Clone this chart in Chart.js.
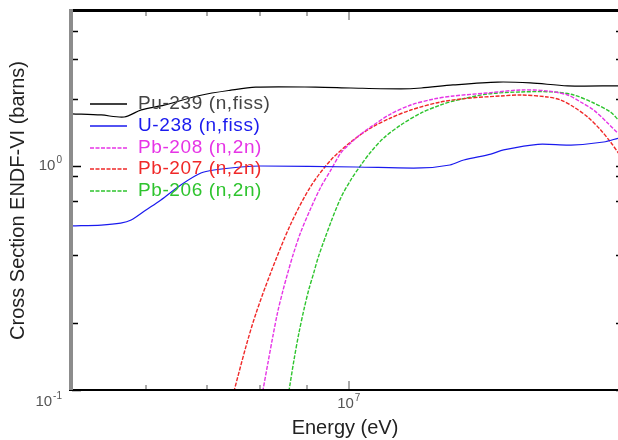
<!DOCTYPE html>
<html>
<head>
<meta charset="utf-8">
<script src="https://cdn.jsdelivr.net/npm/chart.js@4"></script>
<style>
html, body { margin: 0; padding: 0; background: #fff; }
canvas { display: block; }
</style>
</head>
<body>
<canvas id="xsChart" width="618" height="440"></canvas>
<script>
// series names, in legend order
const seriesNames = ['Pu-239 (n,fiss)', 'U-238 (n,fiss)', 'Pb-208 (n,2n)', 'Pb-207 (n,2n)', 'Pb-206 (n,2n)'];
const seriesColors = ['#000000', '#1a1aee', '#e634e6', '#f02828', '#2ec42e'];

// energies in eV, cross sections in barns
const pu239E = [4.98e6, 5.36e6, 5.68e6, 5.93e6, 6.28e6, 6.89e6, 7.43e6, 7.91e6, 9.2e6, 1.005e7, 1.14e7, 1.2e7, 1.3e7, 1.455e7, 1.58e7, 1.735e7, 1.97e7];
const pu239Xs = [1.71, 1.69, 1.655, 1.78, 1.87, 2.07, 2.18, 2.25, 2.25, 2.23, 2.21, 2.23, 2.30, 2.37, 2.35, 2.28, 2.28];

const u238E = [4.98e6, 5.36e6, 5.63e6, 5.78e6, 6.0e6, 6.23e6, 6.55e6, 6.89e6, 7.12e6, 7.62e6, 8.01e6, 1.018e7, 1.2e7, 1.29e7, 1.336e7, 1.43e7, 1.477e7, 1.61e7, 1.75e7, 1.9e7, 1.97e7];
const u238Xs = [0.54, 0.545, 0.556, 0.574, 0.636, 0.705, 0.823, 0.93, 0.96, 0.99, 1.0, 0.99, 0.98, 1.01, 1.064, 1.13, 1.18, 1.25, 1.24, 1.28, 1.33];

const pb208E = [8.03e6, 8.16e6, 8.26e6, 8.36e6, 8.47e6, 8.58e6, 8.69e6, 8.86e6, 9.09e6, 9.32e6, 9.56e6, 9.8e6, 1.005e7, 1.031e7, 1.057e7, 1.111e7, 1.169e7, 1.239e7, 1.302e7, 1.419e7, 1.542e7, 1.649e7, 1.735e7, 1.793e7, 1.853e7, 1.919e7, 1.968e7];
const pb208Xs = [0.093, 0.133, 0.174, 0.223, 0.277, 0.336, 0.401, 0.507, 0.649, 0.806, 0.96, 1.143, 1.267, 1.389, 1.494, 1.706, 1.872, 1.991, 2.054, 2.119, 2.185, 2.163, 2.075, 1.931, 1.778, 1.556, 1.404];

const pb207E = [7.46e6, 7.72e6, 7.91e6, 8.22e6, 8.64e6, 9.09e6, 9.56e6, 1.005e7, 1.057e7, 1.111e7, 1.169e7, 1.26e7, 1.359e7, 1.466e7, 1.542e7, 1.649e7, 1.705e7, 1.762e7, 1.825e7, 1.886e7, 1.933e7, 1.972e7];
const pb207Xs = [0.093, 0.157, 0.218, 0.336, 0.551, 0.814, 1.064, 1.28, 1.478, 1.638, 1.778, 1.931, 2.012, 2.054, 2.075, 2.033, 1.971, 1.834, 1.655, 1.448, 1.28, 1.143];

const pb206E = [8.58e6, 8.71e6, 8.82e6, 8.93e6, 9.04e6, 9.16e6, 9.27e6, 9.56e6, 9.8e6, 1.005e7, 1.031e7, 1.057e7, 1.092e7, 1.14e7, 1.199e7, 1.26e7, 1.302e7, 1.419e7, 1.542e7, 1.675e7, 1.762e7, 1.853e7, 1.933e7, 1.972e7];
const pb206Xs = [0.093, 0.136, 0.18, 0.228, 0.28, 0.336, 0.397, 0.562, 0.72, 0.866, 1.01, 1.155, 1.334, 1.524, 1.723, 1.872, 1.951, 2.097, 2.141, 2.141, 2.075, 1.911, 1.741, 1.605];

const allE = [pu239E, u238E, pb208E, pb207E, pb206E];
const allXs = [pu239Xs, u238Xs, pb208Xs, pb207Xs, pb206Xs];

// tick positions and the decade labels (base, exponent)
const xTickValues = [6e6, 7e6, 8e6, 9e6, 1e7];
const yTickValues = [0.1, 0.2, 0.4, 0.7, 0.9, 1, 2, 3, 4];
const xTickLabels = [{ value: 1e7, base: '10', exp: '7' }];
const yTickLabels = [{ value: 1, base: '10', exp: '0' }, { value: 0.1, base: '10', exp: '-1' }];

const fontFam = '"Liberation Sans", Arial, sans-serif';

const datasets = seriesNames.map((name, i) => ({
    label: name,
    data: allE[i].map((e, j) => ({ x: e, y: allXs[i][j] })),
    borderColor: seriesColors[i],
    borderWidth: i < 2 ? 1.2 : 1.4,
    borderDash: i < 2 ? [] : [4, 1.5],
    pointRadius: 0,
    tension: 0.3,
    fill: false
}));

function drawPowerLabel(ctx, base, exp, x, y, align) {
    ctx.font = '15px ' + fontFam;
    const bw = ctx.measureText(base).width;
    ctx.font = '10px ' + fontFam;
    const ew = ctx.measureText(exp).width;
    let x0 = x;
    if (align === 'right') x0 = x - bw - ew - 1;
    if (align === 'center') x0 = x - (bw + ew + 1) / 2;
    ctx.textAlign = 'left';
    ctx.textBaseline = 'middle';
    ctx.font = '15px ' + fontFam;
    ctx.fillText(base, x0, y);
    ctx.font = '10px ' + fontFam;
    ctx.fillText(exp, x0 + bw + 1, y - 6);
}

// frame, inward tick marks, tick labels and the legend inside the plot
const framePlugin = {
    id: 'frame',
    afterDraw(chart) {
        const ctx = chart.ctx;
        const a = chart.chartArea;
        const xs = chart.scales.x;
        const ys = chart.scales.y;
        ctx.save();

        // tick marks
        ctx.strokeStyle = '#aaaaaa';
        ctx.lineWidth = 2;
        xTickValues.forEach(v => {
            const px = Math.round(xs.getPixelForValue(v));
            const len = v === 1e7 ? 9 : 5;
            ctx.beginPath();
            ctx.moveTo(px, a.top); ctx.lineTo(px, a.top + len);
            ctx.moveTo(px, a.bottom); ctx.lineTo(px, a.bottom - len);
            ctx.stroke();
        });
        ctx.strokeStyle = '#000';
        ctx.lineWidth = 1.5;
        yTickValues.forEach(v => {
            const py = Math.round(ys.getPixelForValue(v)) + 0.5;
            const len = (v === 1 || v === 0.1) ? 9 : 6;
            ctx.beginPath();
            ctx.moveTo(a.left, py); ctx.lineTo(a.left + len, py);
            ctx.moveTo(a.right, py); ctx.lineTo(a.right - 2, py);
            ctx.stroke();
        });

        // axes lines
        ctx.strokeStyle = '#000';
        ctx.lineWidth = 3;
        ctx.beginPath();
        ctx.moveTo(a.left - 3, a.top - 0.5); ctx.lineTo(a.right, a.top - 0.5);
        ctx.stroke();
        ctx.lineWidth = 2;
        ctx.beginPath();
        ctx.moveTo(a.left - 3, a.bottom); ctx.lineTo(a.right, a.bottom);
        ctx.stroke();
        ctx.strokeStyle = '#8c8c8c';
        ctx.lineWidth = 4;
        ctx.beginPath();
        ctx.moveTo(a.left - 1, a.top - 2); ctx.lineTo(a.left - 1, a.bottom);
        ctx.stroke();

        // decade labels
        ctx.fillStyle = '#555';
        yTickLabels.forEach(t => {
            let py = ys.getPixelForValue(t.value);
            if (t.value === 0.1) py += 12;
            drawPowerLabel(ctx, t.base, t.exp, a.left - 10, py, 'right');
        });
        xTickLabels.forEach(t => {
            const px = xs.getPixelForValue(t.value);
            drawPowerLabel(ctx, t.base, t.exp, px, a.bottom + 14, 'center');
        });

        // legend
        ctx.font = '19px ' + fontFam;
        ctx.textBaseline = 'middle';
        ctx.textAlign = 'left';
        if ('letterSpacing' in ctx) ctx.letterSpacing = '0.6px';
        chart.data.datasets.forEach((ds, i) => {
            const y = Math.round(104 + i * 21.8);
            ctx.strokeStyle = ds.borderColor;
            ctx.lineWidth = 1.5;
            ctx.setLineDash(ds.borderDash);
            ctx.beginPath();
            ctx.moveTo(90, y); ctx.lineTo(127, y);
            ctx.stroke();
            ctx.setLineDash([]);
            ctx.fillStyle = i === 0 ? '#444' : ds.borderColor;
            ctx.fillText(ds.label, 138, y);
        });
        ctx.restore();
    }
};

new Chart(document.getElementById('xsChart'), {
    type: 'line',
    data: { datasets: datasets },
    options: {
        responsive: false,
        animation: false,
        layout: { padding: { top: 11, right: 0, left: 0, bottom: 0 } },
        plugins: {
            legend: { display: false },
            tooltip: { enabled: false }
        },
        scales: {
            x: {
                type: 'logarithmic',
                min: 4.98e6,
                max: 1.97e7,
                grid: { display: false },
                border: { display: false },
                afterBuildTicks: s => { s.ticks = xTickValues.map(v => ({ value: v })); },
                afterFit: s => { s.height = 50; },
                ticks: { display: false },
                title: {
                    display: true,
                    text: 'Energy (eV)',
                    color: '#222',
                    font: { size: 20, family: fontFam },
                    padding: { top: 0, bottom: 0 }
                }
            },
            y: {
                type: 'logarithmic',
                min: 0.1,
                max: 4.92,
                grid: { display: false },
                border: { display: false },
                afterBuildTicks: s => { s.ticks = yTickValues.map(v => ({ value: v })); },
                afterFit: s => { s.width = 72; },
                ticks: { display: false },
                title: {
                    display: true,
                    text: 'Cross Section ENDF-VI (barns)',
                    color: '#222',
                    font: { size: 20, family: fontFam },
                    padding: { top: 6, bottom: 0 }
                }
            }
        }
    },
    plugins: [framePlugin]
});
</script>
</body>
</html>
